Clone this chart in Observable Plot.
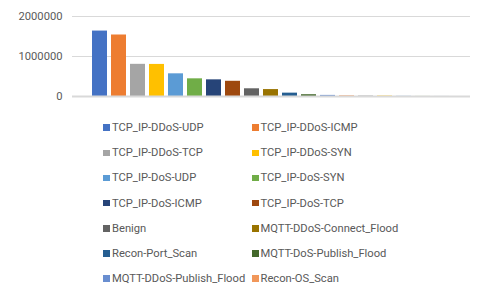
<!DOCTYPE html>
<html><head><meta charset="utf-8">
<script src="https://cdn.jsdelivr.net/npm/d3@7"></script>
<script src="https://cdn.jsdelivr.net/npm/@observablehq/plot@0.6"></script>
<style>
body{margin:0;background:#fff;font-family:Roboto,"Liberation Sans",Arial,sans-serif;}
#wrap{position:relative;width:480px;height:292px;overflow:hidden;}
#chart svg{display:block;}
#legend{position:absolute;left:103px;top:115px;display:grid;grid-template-columns:148.5px 150px;row-gap:0;}
.item{display:flex;align-items:center;height:25.2px;font-size:11.2px;color:#595959;white-space:nowrap;}
.sw{width:7px;height:6.5px;margin-right:2px;flex:none;}
</style></head>
<body><div id="wrap"><div id="chart"></div><div id="legend"></div></div>
<script>
const categories = ["TCP_IP-DDoS-UDP","TCP_IP-DDoS-ICMP","TCP_IP-DDoS-TCP","TCP_IP-DDoS-SYN","TCP_IP-DoS-UDP","TCP_IP-DoS-SYN","TCP_IP-DoS-ICMP","TCP_IP-DoS-TCP","Benign","MQTT-DDoS-Connect_Flood","Recon-Port_Scan","MQTT-DoS-Publish_Flood","MQTT-DDoS-Publish_Flood","Recon-OS_Scan","ARP_Spoofing","MQTT-DoS-Connect_Flood","MQTT-Malformed_Data","Recon-VulScan","Recon-Ping_Sweep"];
const counts = [1635956,1537476,804465,801962,566950,441903,416292,380384,192732,173036,83981,44376,27623,16832,16047,12773,5130,2173,740];
const colors = ["#4472C4","#ED7D31","#A5A5A5","#FFC000","#5B9BD5","#70AD47","#264478","#9E480E","#636363","#997300","#255E91","#43682B","#698ED0","#F1975A","#B7B7B7","#FFCD33","#7CAFDD","#8CC168","#335AA1"];
const yTicks = [0,1000000,2000000];
const legendShown = 14;

const data = categories.map((c,i)=>({cat:c,value:counts[i]}));

const chart = Plot.plot({
  width:480, height:108,
  marginLeft:72, marginRight:10, marginTop:16, marginBottom:12,
  style:{fontFamily:"Roboto, Liberation Sans, Arial, sans-serif",fontSize:"11.2px",color:"#595959",background:"#fff"},
  x:{domain:categories, insetLeft:14.5, insetRight:14.5, paddingInner:0.2, paddingOuter:0.1, axis:null},
  y:{domain:[0,2000000], ticks:yTicks, tickFormat:d=>String(d), tickSize:0, tickPadding:10, label:null},
  color:{domain:categories, range:colors},
  marks:[
    Plot.ruleY(yTicks,{stroke:"#d9d9d9",strokeWidth:1}),
    Plot.barY(data,{x:"cat",y:"value",fill:"cat"}),
    Plot.ruleY([0],{stroke:"#d9d9d9",strokeWidth:2})
  ]
});
document.getElementById("chart").appendChild(chart);

const lg = document.getElementById("legend");
categories.slice(0,legendShown).forEach((c,i)=>{
  const it=document.createElement("div");it.className="item";
  const sw=document.createElement("span");sw.className="sw";sw.style.background=colors[i];
  const t=document.createElement("span");t.textContent=c;
  it.appendChild(sw);it.appendChild(t);lg.appendChild(it);
});
</script></body></html>
